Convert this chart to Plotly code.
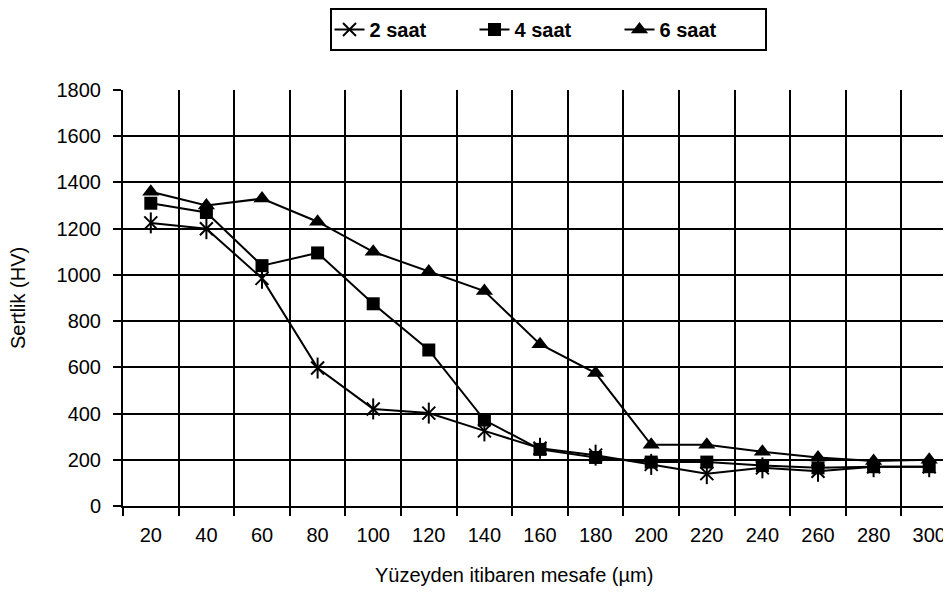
import plotly.graph_objects as go

categories = ["20", "40", "60", "80", "100", "120", "140", "160", "180", "200",
              "220", "240", "260", "280", "300"]
saat2 = [1225, 1200, 985, 597, 420, 402, 325, 250, 220, 180, 140, 165, 150, 170, 170]
saat4 = [1310, 1270, 1040, 1095, 875, 675, 372, 245, 210, 190, 190, 175, 165, 170, 170]
saat6 = [1360, 1300, 1330, 1230, 1100, 1015, 930, 700, 575, 265, 265, 235, 210, 195, 200]
y_ticks = list(range(0, 1801, 200))

FONT = "Liberation Sans, Arial, sans-serif"
W, H = 951, 607
OFF = 8  # default page body margin in the browser
L, R, T, B = 123 - OFF, 2, 90 - OFF, H - (506 - OFF)
plot_w = W - L - R
plot_h = H - T - B

fig = go.Figure()
line = dict(color="black", width=2)

fig.add_trace(go.Scatter(x=categories, y=saat2, name="2 saat", mode="lines+markers",
                         line=line, legendgroup="s2",
                         marker=dict(symbol="x-thin-open", size=13, color="black",
                                     line=dict(color="black", width=2))))
fig.add_trace(go.Scatter(x=categories, y=saat2, mode="markers", showlegend=False,
                         legendgroup="s2", hoverinfo="skip",
                         marker=dict(symbol="line-ns-open", size=15, color="black",
                                     line=dict(color="black", width=2))))
fig.add_trace(go.Scatter(x=categories, y=saat4, name="4 saat", mode="lines+markers",
                         line=line,
                         marker=dict(symbol="square", size=13, color="black")))
fig.add_trace(go.Scatter(x=categories, y=saat6, name="6 saat", mode="lines+markers",
                         line=line,
                         marker=dict(symbol="triangle-up", size=15, color="black")))

fig.update_layout(
    width=W, height=H,
    margin=dict(l=L, r=R, t=T, b=B, autoexpand=False),
    paper_bgcolor="white", plot_bgcolor="white",
    font=dict(family=FONT, size=20, color="black"),
    showlegend=True,
    legend=dict(orientation="h", xref="container", yref="container",
                x=(548 - OFF) / W, xanchor="center",
                y=1, yanchor="top",
                bordercolor="black", borderwidth=2, bgcolor="white",
                font=dict(family=FONT, size=20, color="black", weight="bold"),
                entrywidth=100, entrywidthmode="pixels",
                itemwidth=30, tracegroupgap=0),
    xaxis=dict(type="category", range=[-0.5, 14.5], tickson="boundaries",
               automargin=False,
               showgrid=True, gridcolor="black", gridwidth=2,
               showline=True, linecolor="black", linewidth=2,
               ticks="outside", ticklen=8, tickwidth=2, tickcolor="black",
               ticklabelstandoff=10, zeroline=False, fixedrange=True),
    yaxis=dict(range=[0, 1800], tickvals=y_ticks, automargin=False,
               showgrid=True, gridcolor="black", gridwidth=2,
               showline=True, linecolor="black", linewidth=2,
               ticks="outside", ticklen=8, tickwidth=2, tickcolor="black",
               ticklabelstandoff=8, zeroline=False, fixedrange=True),
    annotations=[
        dict(text="Sertlik (HV)", textangle=-90, xref="paper", yref="paper",
             x=(18 - OFF - L) / plot_w, y=0.5, xanchor="center", yanchor="middle",
             showarrow=False, font=dict(family=FONT, size=20)),
        dict(text="Yüzeyden itibaren mesafe (µm)", xref="paper", yref="paper",
             x=(514 - OFF - L) / plot_w, y=-0.165,
             xanchor="center", yanchor="middle",
             showarrow=False, font=dict(family=FONT, size=20)),
    ],
)

fig.write_html("out.html")
